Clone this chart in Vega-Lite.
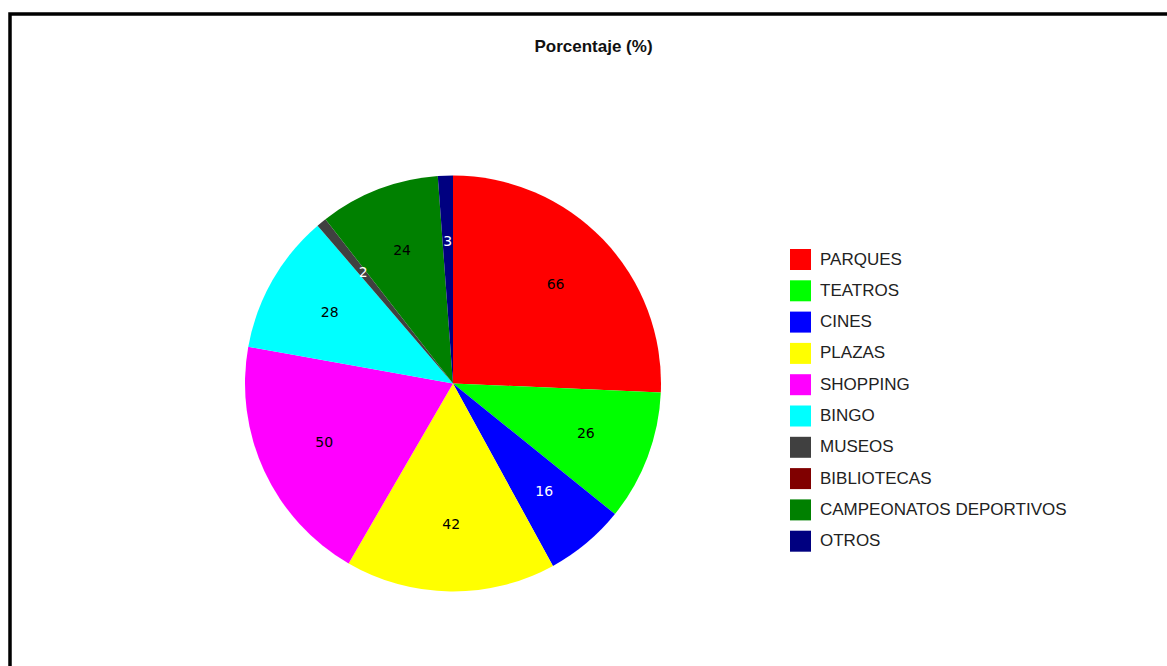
{
  "$schema": "https://vega.github.io/schema/vega-lite/v6.json",
  "autosize": "none",
  "width": 1157,
  "height": 652,
  "padding": {"left": 10, "top": 14, "right": 0, "bottom": 0},
  "background": "white",
  "view": {"stroke": "black", "strokeWidth": 3.5, "strokeDash": [1157, 1809, 652], "fill": "white"},
  "config": {
    "style": {"view": {"stroke": "black", "strokeWidth": 3.5, "strokeDash": [1157, 1809, 652]}}
  },
  "title": {
    "text": "Porcentaje (%)",
    "font": "Liberation Sans",
    "fontSize": 17,
    "fontWeight": "bold",
    "color": "#111111",
    "offset": -42,
    "dx": 5
  },
  "data": {
    "values": [
      {"categoria": "PARQUES", "valor": 66},
      {"categoria": "TEATROS", "valor": 26},
      {"categoria": "CINES", "valor": 16},
      {"categoria": "PLAZAS", "valor": 42},
      {"categoria": "SHOPPING", "valor": 50},
      {"categoria": "BINGO", "valor": 28},
      {"categoria": "MUSEOS", "valor": 2},
      {"categoria": "BIBLIOTECAS", "valor": 0},
      {"categoria": "CAMPEONATOS DEPORTIVOS", "valor": 24},
      {"categoria": "OTROS", "valor": 3}
    ]
  },
  "transform": [{"window": [{"op": "row_number", "as": "orden"}]}],
  "encoding": {
    "theta": {"field": "valor", "type": "quantitative", "stack": true},
    "order": {"field": "orden", "type": "quantitative"}
  },
  "layer": [
    {
      "mark": {"type": "arc", "outerRadius": 208, "xOffset": -135.5, "yOffset": 43.5},
      "encoding": {
        "color": {
          "field": "categoria",
          "type": "nominal",
          "sort": null,
          "scale": {
            "domain": ["PARQUES", "TEATROS", "CINES", "PLAZAS", "SHOPPING", "BINGO", "MUSEOS", "BIBLIOTECAS", "CAMPEONATOS DEPORTIVOS", "OTROS"],
            "range": ["#FF0000", "#00FF00", "#0000FF", "#FFFF00", "#FF00FF", "#00FFFF", "#404040", "#800000", "#008000", "#000080"]
          },
          "legend": {
            "orient": "none",
            "legendX": 780,
            "legendY": 235,
            "title": null,
            "padding": 0,
            "symbolType": "square",
            "symbolSize": 441,
            "symbolStrokeWidth": 0,
            "symbolOpacity": 1,
            "labelFont": "Liberation Sans",
            "labelFontSize": 17,
            "labelColor": "#222222",
            "labelOffset": 9,
            "rowPadding": 10.3,
            "labelLimit": 400
          }
        }
      }
    },
    {
      "transform": [{"filter": "datum.valor > 0"}],
      "mark": {"type": "text", "radius": 142, "xOffset": -135.5, "yOffset": 43.5, "font": "DejaVu Sans", "fontSize": 14},
      "encoding": {
        "text": {"field": "valor", "type": "quantitative"},
        "color": {
          "condition": {"test": "datum.categoria === 'CINES' || datum.categoria === 'MUSEOS' || datum.categoria === 'OTROS'", "value": "white"},
          "value": "black"
        }
      }
    }
  ]
}
